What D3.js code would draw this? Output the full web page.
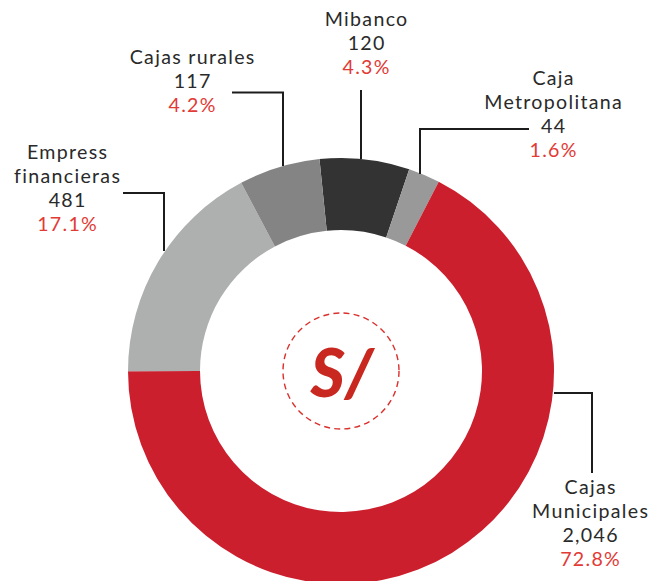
<!DOCTYPE html>
<html><head><meta charset="utf-8">
<script src="https://cdn.jsdelivr.net/npm/d3@7"></script>
<style>
html,body{margin:0;padding:0;background:#fff;}
svg{display:block;}
text{font-family:Lato,"Noto Sans",sans-serif;font-variant-ligatures:none;}
</style></head>
<body>
<svg id="c" width="650" height="581"></svg>
<script>
// Data
const categories = ["Mibanco","Caja Metropolitana","Cajas Municipales","Empress financieras","Cajas rurales"];
const nameLines = [["Mibanco"],["Caja","Metropolitana"],["Cajas","Municipales"],["Empress","financieras"],["Cajas rurales"]];
const amounts = ["120","44","2,046","481","117"];
const percentLabels = ["4.3%","1.6%","72.8%","17.1%","4.2%"];
// angular share of each slice as drawn in the picture (%)
const arcShare = [6.8, 2.4, 67.4, 17.25, 6.15];
const colors = ["#333333","#999999","#cc1f2e","#aeb0af","#848484"];

const svg = d3.select("#c");
const cx = 341, cy = 371, rOuter = 213, rInner = 141;
const g = svg.append("g").attr("transform", `translate(${cx},${cy})`);

const start = -5.8 * Math.PI / 180;
const pie = d3.pie().sort(null).value(d => d).startAngle(start).endAngle(start + 2*Math.PI);
const arcs = pie(arcShare);
const arc = d3.arc().innerRadius(rInner).outerRadius(rOuter);

g.selectAll("path.slice").data(arcs).join("path")
  .attr("class","slice")
  .attr("d", arc)
  .attr("fill", (d,i) => colors[i]);

// center symbol
g.append("circle").attr("r", 58).attr("fill","none")
  .attr("stroke","#d9302c").attr("stroke-width",1.4).attr("stroke-dasharray","6 4.2");
g.append("text").attr("x", 1).attr("y", 26).attr("text-anchor","middle")
  .attr("font-size", 66).attr("font-weight", 900).attr("font-style","italic")
  .attr("fill","#c8281f").attr("font-family","Lato, sans-serif").text("S/");

// label layout (absolute page coords): text center x, first baseline y, leader polyline
const labelPos = [
  {x:366, y:26, leader:[[361,90],[361,159]]},
  {x:553, y:85, leader:[[529,129],[420,129],[420,174]]},
  {x:590, y:494, leader:[[554,393],[592,393],[592,473]]},
  {x:67, y:159, leader:[[123,193],[164,193],[164,251]]},
  {x:192, y:64, leader:[[232,92.5],[283,92.5],[283,166]]}
];
const lh = 24;
const line = d3.line();
categories.forEach((c,i) => {
  const p = labelPos[i];
  svg.append("path").attr("d", line(p.leader)).attr("fill","none")
    .attr("stroke","#1c1c1c").attr("stroke-width",2);
  const rows = nameLines[i].map(l => ({t:l, c:"#2a2a2a"}))
    .concat([{t:amounts[i], c:"#2a2a2a"}, {t:percentLabels[i], c:"#e23a35"}]);
  rows.forEach((r,k) => {
    svg.append("text").attr("text-anchor","middle").attr("font-size",19.6)
      .attr("letter-spacing", 1.3)
      .attr("x", p.x + 0.65).attr("y", p.y + k*lh).attr("fill", r.c).text(r.t);
  });
});
</script>
</body></html>
